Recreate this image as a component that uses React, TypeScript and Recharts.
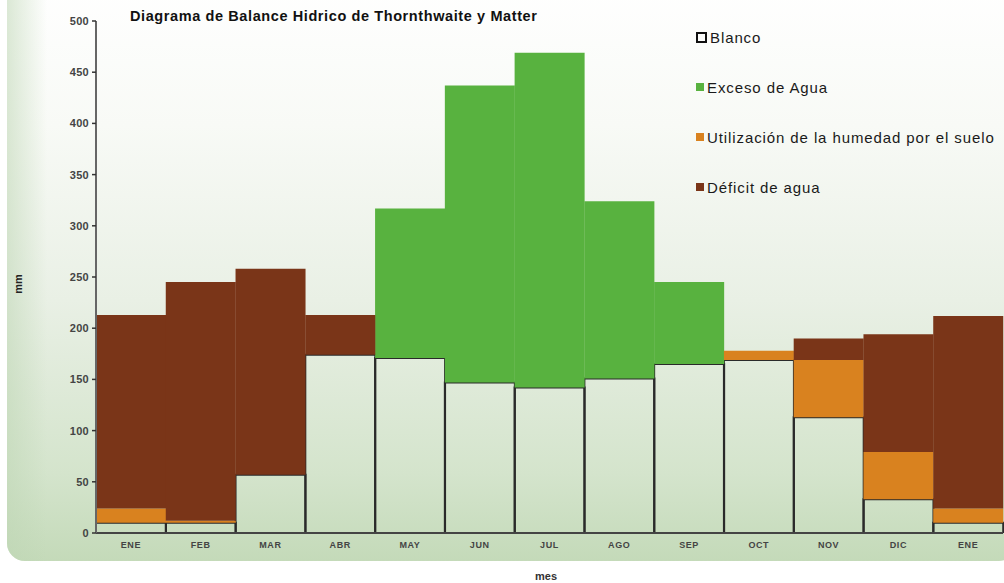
import React from 'react';
import { BarChart, Bar, XAxis, YAxis, Legend } from 'recharts';

const meses = ['ENE', 'FEB', 'MAR', 'ABR', 'MAY', 'JUN', 'JUL', 'AGO', 'SEP', 'OCT', 'NOV', 'DIC', 'ENE'];
const blanco = [10, 10, 57, 174, 171, 147, 142, 151, 165, 169, 113, 33, 10];
const exceso = [0, 0, 0, 0, 146, 290, 327, 173, 80, 0, 0, 0, 0];
const utilizacion = [14, 2, 0, 0, 0, 0, 0, 0, 0, 9, 56, 46, 14];
const deficit = [189, 233, 201, 39, 0, 0, 0, 0, 0, 0, 21, 115, 188];
const yTicks = [0, 50, 100, 150, 200, 250, 300, 350, 400, 450, 500];
const boundaryTicks = [0, 1, 2, 3, 4, 5, 6, 7, 8, 9, 10, 11, 12, 13];

const seriesNames = ['Blanco', 'Exceso de Agua', 'Utilización de la humedad por el suelo', 'Déficit de agua'];
const seriesColors = ['transparent', '#58b23f', '#d9821f', '#7a3518'];

const data = meses.map((mes, i) => ({
  mes,
  blanco: blanco[i],
  exceso: exceso[i],
  utilizacion: utilizacion[i],
  deficit: deficit[i],
}));

const FONT = '"Liberation Sans", Arial, sans-serif';

const LegendContent = () => (
  <div style={{ fontFamily: FONT, fontSize: 15, letterSpacing: 0.9, color: '#1a1a1a' }}>
    {seriesNames.map((name, i) => (
      <div key={name} style={{ display: 'flex', alignItems: 'center', height: 50 }}>
        <span
          style={{
            display: 'inline-block',
            width: i === 0 ? 7 : 8,
            height: i === 0 ? 7 : 8,
            background: seriesColors[i],
            border: i === 0 ? '2px solid #111' : 'none',
            marginRight: 3,
          }}
        />
        <span>{name}</span>
      </div>
    ))}
  </div>
);

export default function App() {
  return (
    <div style={{ position: 'absolute', left: 0, top: 0, width: 1004, height: 583, background: '#fff', overflow: 'hidden' }}>
      <div
        style={{
          position: 'absolute',
          left: 7,
          top: -20,
          width: 1010,
          height: 581,
          borderRadius: 18,
          background: 'linear-gradient(180deg, #ffffff 0%, #f8faf6 25%, #e9f0e5 55%, #d4e4cc 85%, #c4dab9 100%)',
        }}
      />
      <div
        style={{
          position: 'absolute',
          left: 7,
          top: 0,
          width: 40,
          height: 561,
          background: 'linear-gradient(90deg, rgba(190,214,180,0.55) 0%, rgba(255,255,255,0) 100%)',
          borderBottomLeftRadius: 18,
        }}
      />
      <div style={{ position: 'absolute', left: 0, top: 0 }}>
        <BarChart
          width={1004}
          height={583}
          data={data}
          margin={{ top: 21, right: 1, bottom: 30, left: 56 }}
          barCategoryGap={0}
          barGap={0}
        >
          <XAxis
            xAxisId="a"
            type="number"
            domain={[0, 13]}
            ticks={boundaryTicks}
            tick={false}
            interval={0}
            height={1}
            axisLine={{ stroke: '#444', strokeWidth: 2 }}
            tickLine={{ stroke: '#333', strokeWidth: 2 }}
            tickSize={6}
            allowDataOverflow
          />
          <XAxis
            xAxisId="b"
            dataKey="mes"
            height={19}
            axisLine={false}
            tickLine={false}
            tick={{ fontSize: 9, fill: '#444', fontFamily: FONT, fontWeight: 'bold', letterSpacing: 0.6 }}
            tickMargin={2}
            interval={0}
          />
          <YAxis
            width={40}
            domain={[0, 500]}
            ticks={yTicks}
            axisLine={{ stroke: '#666', strokeWidth: 2 }}
            tickLine={{ stroke: '#333', strokeWidth: 1.5 }}
            tickSize={4}
            tickMargin={3}
            tick={{ fontSize: 11, fill: '#444', fontFamily: FONT, fontWeight: 'bold', letterSpacing: 0.3 }}
            allowDataOverflow
          />
          <Legend
            layout="vertical"
            align="center"
            verticalAlign="middle"
            wrapperStyle={{ left: 696, top: 12, width: 312 }}
            content={<LegendContent />}
          />
          <Bar xAxisId="b" dataKey="blanco" name={seriesNames[0]} stackId="a" fill="transparent" stroke="#2a2a2a" strokeWidth={2} isAnimationActive={false} />
          <Bar xAxisId="b" dataKey="exceso" name={seriesNames[1]} stackId="a" fill={seriesColors[1]} isAnimationActive={false} />
          <Bar xAxisId="b" dataKey="utilizacion" name={seriesNames[2]} stackId="a" fill={seriesColors[2]} isAnimationActive={false} />
          <Bar xAxisId="b" dataKey="deficit" name={seriesNames[3]} stackId="a" fill={seriesColors[3]} isAnimationActive={false} />
        </BarChart>
      </div>
      <div style={{ position: 'absolute', left: 130, top: 8, fontFamily: FONT, fontWeight: 'bold', fontSize: 14.5, letterSpacing: 0.6, color: '#111', whiteSpace: 'nowrap' }}>
        Diagrama de Balance Hidrico de Thornthwaite y Matter
      </div>
      <div style={{ position: 'absolute', left: 10, top: 276, width: 16, height: 16, display: 'flex', alignItems: 'center', justifyContent: 'center' }}>
        <div style={{ transform: 'rotate(-90deg)', fontFamily: FONT, fontWeight: 'bold', fontSize: 11, color: '#222' }}>mm</div>
      </div>
      <div style={{ position: 'absolute', left: 535, top: 570, fontFamily: FONT, fontWeight: 'bold', fontSize: 11, color: '#333' }}>mes</div>
    </div>
  );
}
